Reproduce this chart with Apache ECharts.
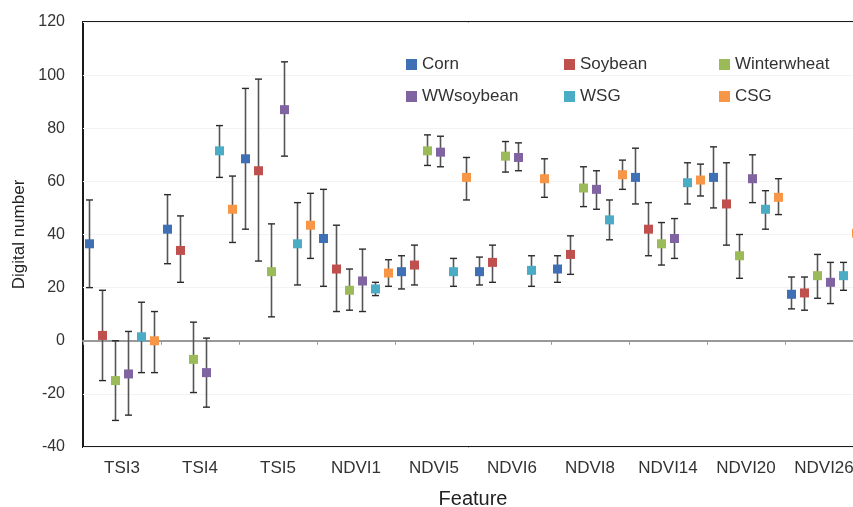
<!DOCTYPE html>
<html>
<head>
<meta charset="utf-8">
<script src="https://cdn.jsdelivr.net/npm/echarts@6/dist/echarts.min.js"></script>
<style>
html,body{margin:0;padding:0;background:#fff;overflow:hidden;}
#chart{width:853px;height:507px;}
</style>
</head>
<body>
<div id="chart"></div>
<script>
var categories = ['TSI3','TSI4','TSI5','NDVI1','NDVI5','NDVI6','NDVI8','NDVI14','NDVI20','NDVI26'];
var seriesNames = ['Corn','Soybean','Winterwheat','WWsoybean','WSG','CSG'];
var yTicks = {min:-40, max:120, interval:20};

var cornMean  = [36.5, 42, 68.5, 38.5, 26, 26, 27, 61.5, 61.5, 17.5];
var cornLow   = [20, 29, 42, 20.5, 19.5, 21, 22, 51.5, 50, 12];
var cornHigh  = [53, 55, 95, 57, 32, 31.5, 32, 72.5, 73, 24];

var soyMean   = [2, 34, 64, 27, 28.5, 29.5, 32.5, 42, 51.5, 18];
var soyLow    = [-15, 22, 30, 11, 21, 22, 25, 32, 36, 11.5];
var soyHigh   = [19, 47, 98.5, 43.5, 36, 36, 39.5, 52, 67, 24];

var wwMean    = [-15, -7, 26, 19, 71.5, 69.5, 57.5, 36.5, 32, 24.5];
var wwLow     = [-30, -19.5, 9, 11.5, 66, 63.5, 50.5, 28.5, 23.5, 16];
var wwHigh    = [0, 7, 44, 27, 77.5, 75, 65.5, 44.5, 40, 32.5];

var wwsMean   = [-12.5, -12, 87, 22.5, 71, 69, 57, 38.5, 61, 22];
var wwsLow    = [-28, -25, 69.5, 11, 65.5, 64, 49.5, 31, 52, 14];
var wwsHigh   = [3.5, 1, 105, 34.5, 77, 74.5, 64, 46, 70, 29.5];

var wsgMean   = [1.5, 71.5, 36.5, 19.5, 26, 26.5, 45.5, 59.5, 49.5, 24.5];
var wsgLow    = [-12, 61.5, 21, 17, 20.5, 20.5, 38, 51.5, 42, 19];
var wsgHigh   = [14.5, 81, 52, 22, 31, 32, 53, 67, 56.5, 29.5];

var csgMean   = [0, 49.5, 43.5, 25.5, 61.5, 61, 62.5, 60.5, 54, 40.5];
var csgLow    = [-12, 37, 31, 20.5, 53, 54, 57, 54.5, 47.5, 34];
var csgHigh   = [11, 62, 55.5, 30.5, 69, 68.5, 68, 66.5, 61, 47];

var colors = ['#3f6fb4','#c0504d','#9bbb59','#8064a2','#4bacc6','#f79646'];
var means = [cornMean, soyMean, wwMean, wwsMean, wsgMean, csgMean];
var lows  = [cornLow, soyLow, wwLow, wwsLow, wsgLow, csgLow];
var highs = [cornHigh, soyHigh, wwHigh, wwsHigh, wsgHigh, csgHigh];

function makeRender(si){
  return function(params, api){
    var idx = api.value(0);
    var pm = api.coord([idx, api.value(1)]);
    var pl = api.coord([idx, api.value(2)]);
    var ph = api.coord([idx, api.value(3)]);
    var band = api.size([1,0])[0];
    var x = pm[0] + (si - 2.5) * band / 6;
    var cap = 3.5, sq = 9;
    var ls = {stroke:'#2b2b2b', lineWidth:1.4};
    return {
      type:'group',
      children:[
        {type:'line', shape:{x1:x,y1:pl[1],x2:x,y2:ph[1]}, style:{stroke:'#555',lineWidth:1.6}},
        {type:'line', shape:{x1:x-cap,y1:pl[1],x2:x+cap,y2:pl[1]}, style:ls},
        {type:'line', shape:{x1:x-cap,y1:ph[1],x2:x+cap,y2:ph[1]}, style:ls},
        {type:'rect', shape:{x:x-sq/2,y:pm[1]-sq/2,width:sq,height:sq}, style:{fill:colors[si]}}
      ]
    };
  };
}

var series = seriesNames.map(function(name, si){
  var data = categories.map(function(c, i){ return [i, means[si][i], lows[si][i], highs[si][i]]; });
  return {
    name: name, type:'custom', xAxisIndex:0, yAxisIndex:0,
    itemStyle:{color:colors[si]},
    encode:{x:0, y:[1,2,3]},
    renderItem: makeRender(si),
    data: data
  };
});

function legendCol(left, names){
  return {
    data: names, orient:'vertical', left:left, top:51,
    icon:'rect', itemWidth:11, itemHeight:11, itemGap:15,
    textStyle:{fontSize:17, color:'#333', fontFamily:'Liberation Sans, Arial, sans-serif', lineHeight:17}
  };
}

var chart = echarts.init(document.getElementById('chart'));
chart.setOption({
  animation:false,
  textStyle:{fontFamily:'Liberation Sans, Arial, sans-serif'},
  grid:{left:83, top:22, right:-10, bottom:60, show:true, borderColor:'#1a1a1a', borderWidth:2,
        backgroundColor:'transparent', outerBoundsMode:'none', containLabel:false},
  legend:[legendCol(401,['Corn','WWsoybean']), legendCol(559,['Soybean','WSG']), legendCol(714,['Winterwheat','CSG'])],
  xAxis:[
    {type:'category', data:categories, position:'bottom',
     axisLine:{show:false, onZero:false}, axisTick:{show:false},
     axisLabel:{fontSize:17, color:'#333', margin:13, interval:0, hideOverlap:false},
     name:'Feature', nameLocation:'middle', nameGap:42,
     nameTextStyle:{fontSize:20, color:'#222'}},
    {type:'category', data:categories, position:'bottom',
     axisLine:{show:true, onZero:true, lineStyle:{color:'#999', width:2}},
     axisTick:{show:true, length:4, interval:0, lineStyle:{color:'#999'}},
     axisLabel:{show:false}}
  ],
  yAxis:{type:'value', min:yTicks.min, max:yTicks.max, interval:yTicks.interval,
    axisLine:{show:false}, axisTick:{show:false},
    splitLine:{lineStyle:{color:'#f3f3f3'}},
    axisLabel:{fontSize:16, color:'#333', margin:18},
    name:'Digital number', nameLocation:'middle', nameGap:50,
    nameTextStyle:{fontSize:17, color:'#222'}},
  series: series
});
</script>
</body>
</html>
